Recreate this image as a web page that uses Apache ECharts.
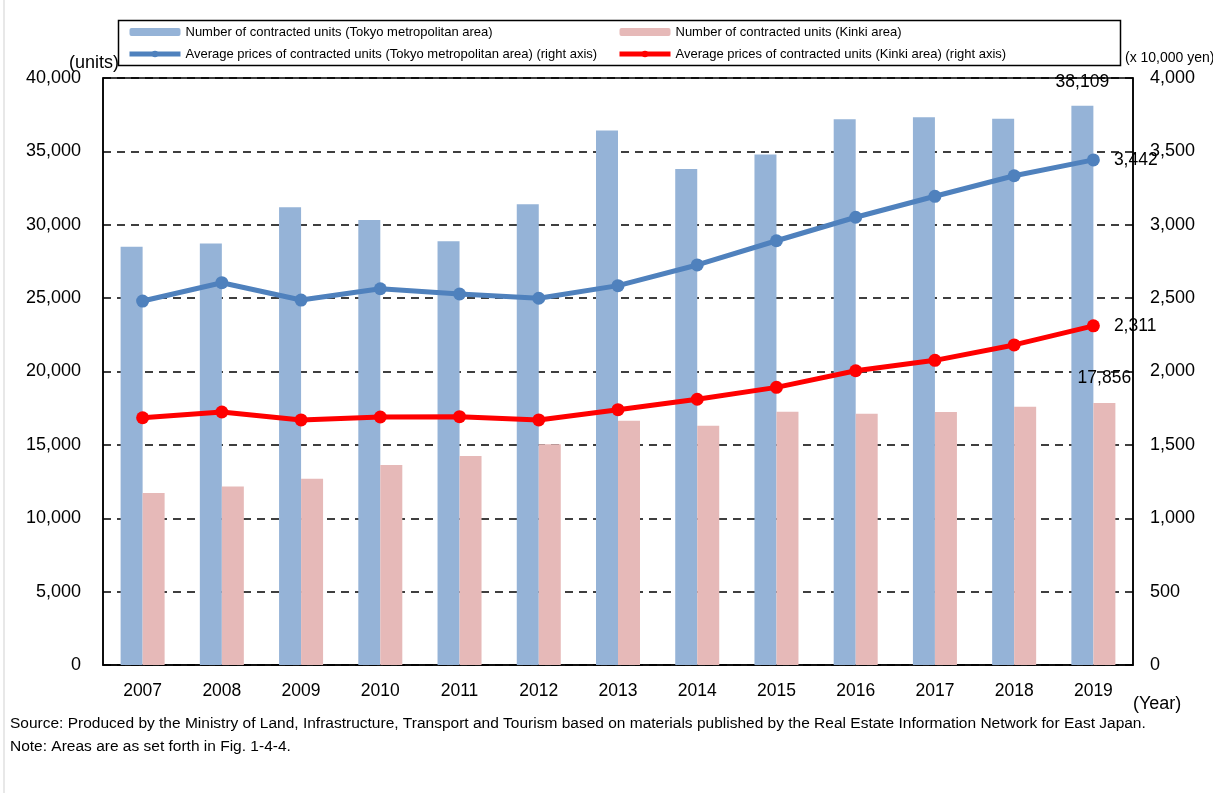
<!DOCTYPE html>
<html>
<head>
<meta charset="utf-8">
<script src="https://cdn.jsdelivr.net/npm/echarts@6/dist/echarts.min.js"></script>
<style>
  html, body { margin: 0; padding: 0; background: #fff; }
  #chart { width: 1213px; height: 793px; }
</style>
</head>
<body>
<div id="chart"></div>
<script>
// Condominium contracts: Tokyo metropolitan area vs. Kinki area, 2007-2019
const years = ['2007', '2008', '2009', '2010', '2011', '2012', '2013', '2014', '2015', '2016', '2017', '2018', '2019'];
const tokyoUnits = [28500, 28730, 31190, 30330, 28870, 31400, 36430, 33800, 34780, 37190, 37330, 37220, 38109];
const kinkiUnits = [11720, 12170, 12700, 13630, 14240, 15040, 16650, 16310, 17260, 17120, 17240, 17600, 17856];
const tokyoPrice = [2480, 2605, 2487, 2564, 2528, 2499, 2585, 2726, 2891, 3051, 3194, 3334, 3442];
const kinkiPrice = [1685, 1724, 1670, 1690, 1692, 1670, 1740, 1811, 1892, 2005, 2076, 2181, 2311];
const leftTicks = { min: 0, max: 40000, interval: 5000 };
const rightTicks = { min: 0, max: 4000, interval: 500 };

const names = {
  tokyoBar: 'Number of contracted units (Tokyo metropolitan area)',
  kinkiBar: 'Number of contracted units (Kinki area)',
  tokyoLine: 'Average prices of contracted units (Tokyo metropolitan area) (right axis)',
  kinkiLine: 'Average prices of contracted units (Kinki area) (right axis)'
};

const FONT = '"Liberation Sans", Arial, sans-serif';
const fmt = v => v.toLocaleString('en-US');

// Only the last year carries a value label
function withLastLabel(values, label) {
  return values.map((v, i) => i === values.length - 1 ? { value: v, label: Object.assign({ show: true }, label) } : v);
}

const labelText = { color: '#000', fontSize: 17.5, fontFamily: FONT, formatter: p => fmt(p.value) };
const legendText = { fontSize: 13, lineHeight: 18, color: '#000', fontFamily: FONT };

const chart = echarts.init(document.getElementById('chart'), null, { renderer: 'canvas' });

chart.setOption({
  animation: false,
  backgroundColor: '#fff',
  textStyle: { fontFamily: FONT },
  grid: { left: 103, right: 80, top: 78, bottom: 128, show: true, borderColor: '#000', borderWidth: 1.5, backgroundColor: 'transparent' },
  legend: [
    {
      data: [names.tokyoBar, names.tokyoLine],
      orient: 'vertical', left: 122, top: 18, itemGap: 4, itemWidth: 51, itemHeight: 8,
      lineStyle: { width: 5 },
      textStyle: legendText
    },
    {
      data: [names.kinkiBar, names.kinkiLine],
      orient: 'vertical', left: 612, top: 18, itemGap: 4, itemWidth: 51, itemHeight: 8,
      lineStyle: { width: 5 },
      textStyle: legendText
    }
  ],
  xAxis: {
    type: 'category',
    data: years,
    axisLine: { lineStyle: { color: '#000', width: 1.5 } },
    axisTick: { show: false },
    axisLabel: { color: '#000', fontSize: 17.5, margin: 17, fontFamily: FONT }
  },
  yAxis: [
    {
      type: 'value', min: leftTicks.min, max: leftTicks.max, interval: leftTicks.interval,
      axisLine: { show: true, lineStyle: { color: '#000', width: 1.5 } },
      axisTick: { show: false },
      axisLabel: { color: '#000', fontSize: 18, margin: 22, formatter: v => fmt(v), fontFamily: FONT },
      splitLine: { show: true, lineStyle: { color: '#000', type: [8, 6], width: 1.5 } }
    },
    {
      type: 'value', min: rightTicks.min, max: rightTicks.max, interval: rightTicks.interval,
      position: 'right',
      axisLine: { show: true, lineStyle: { color: '#000', width: 1.5 } },
      axisTick: { show: false },
      axisLabel: { color: '#000', fontSize: 18, margin: 17, formatter: v => fmt(v), fontFamily: FONT },
      splitLine: { show: false }
    }
  ],
  series: [
    {
      name: names.tokyoBar, type: 'bar', yAxisIndex: 0,
      barWidth: 22, barGap: '0%',
      itemStyle: { color: '#95B3D7' },
      data: withLastLabel(tokyoUnits, Object.assign({ position: 'top', distance: 15 }, labelText)),
      z: 2
    },
    {
      name: names.kinkiBar, type: 'bar', yAxisIndex: 0,
      barWidth: 22, barGap: '0%',
      itemStyle: { color: '#E6B9B8' },
      data: withLastLabel(kinkiUnits, Object.assign({ position: 'top', distance: 16 }, labelText)),
      z: 2
    },
    {
      name: names.tokyoLine, type: 'line', yAxisIndex: 1,
      symbol: 'circle', symbolSize: 13,
      lineStyle: { color: '#4F81BD', width: 5 },
      itemStyle: { color: '#4F81BD' },
      data: withLastLabel(tokyoPrice, Object.assign({ position: 'right', distance: 14 }, labelText)),
      z: 5
    },
    {
      name: names.kinkiLine, type: 'line', yAxisIndex: 1,
      symbol: 'circle', symbolSize: 13,
      lineStyle: { color: '#FF0000', width: 5 },
      itemStyle: { color: '#FF0000' },
      data: withLastLabel(kinkiPrice, Object.assign({ position: 'right', distance: 14 }, labelText)),
      z: 5
    }
  ],
  graphic: [
    // legend frame
    { type: 'rect', left: 116, top: 18, shape: { width: 1002, height: 45 }, style: { fill: 'none', stroke: '#000', lineWidth: 1.5 }, z: 10 },
    // faint outer page edge
    { type: 'line', shape: { x1: 4, y1: 0, x2: 4, y2: 793 }, style: { stroke: '#e0e0e0', lineWidth: 1.5 } },
    { type: 'text', left: 69, top: 54, style: { text: '(units)', fontSize: 18, fill: '#000', fontFamily: FONT } },
    { type: 'text', left: 1125, top: 51, style: { text: '(x 10,000 yen)', fontSize: 14, fill: '#000', fontFamily: FONT } },
    { type: 'text', left: 1133, top: 695, style: { text: '(Year)', fontSize: 18, fill: '#000', fontFamily: FONT } },
    { type: 'text', left: 10, top: 716, style: { text: 'Source: Produced by the Ministry of Land, Infrastructure, Transport and Tourism based on materials published by the Real Estate Information Network for East Japan.', fontSize: 15.5, fill: '#000', fontFamily: FONT } },
    { type: 'text', left: 10, top: 739, style: { text: 'Note: Areas are as set forth in Fig. 1-4-4.', fontSize: 15.5, fill: '#000', fontFamily: FONT } }
  ]
});
</script>
</body>
</html>
